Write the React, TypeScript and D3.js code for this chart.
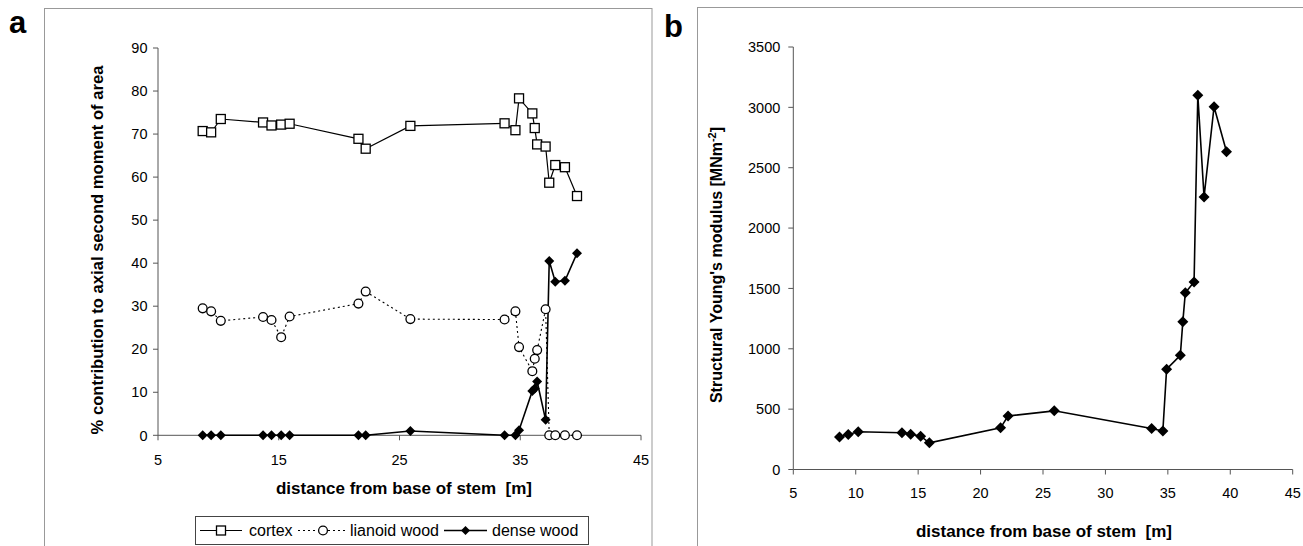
import React from 'react';
import * as d3 from 'd3';

// distance from base of stem [m], shared by both panels
const distance = [8.7, 9.4, 10.2, 13.7, 14.4, 15.2, 15.9, 21.6, 22.2, 25.9, 33.7, 34.6, 34.9, 36.0, 36.2, 36.4, 37.1, 37.4, 37.9, 38.7, 39.7];

// panel a: % contribution to axial second moment of area
const cortex = [70.7, 70.4, 73.5, 72.7, 72.0, 72.2, 72.4, 68.9, 66.6, 71.9, 72.5, 70.9, 78.3, 74.8, 71.4, 67.6, 67.1, 58.7, 62.8, 62.3, 55.6];
const lianoid = [29.5, 28.8, 26.6, 27.5, 26.8, 22.8, 27.6, 30.6, 33.4, 27.0, 26.9, 28.8, 20.5, 14.9, 17.8, 19.8, 29.3, 0, 0, 0, 0];
const dense = [0, 0, 0, 0, 0, 0, 0, 0, 0, 1.0, 0, 0, 1.2, 10.3, 10.9, 12.5, 3.6, 40.5, 35.7, 35.9, 42.3];

// panel b: structural Young's modulus [MN m^-2]
const modulus = [270, 290, 313, 305, 293, 276, 221, 345, 443, 486, 339, 319, 831, 946, 1225, 1464, 1553, 3100, 2258, 3005, 2632];

const ticksA_x = [5, 15, 25, 35, 45];
const ticksA_y = [0, 10, 20, 30, 40, 50, 60, 70, 80, 90];
const ticksB_x = [5, 10, 15, 20, 25, 30, 35, 40, 45];
const ticksB_y = [0, 500, 1000, 1500, 2000, 2500, 3000, 3500];

const FONT = '"Liberation Sans", Arial, sans-serif';
const AXIS = '#555';
const X_TITLE = 'distance from base of stem\u00a0 [m]';

const xA = d3.scaleLinear().domain([5, 45]).range([158, 641]);
const yA = d3.scaleLinear().domain([0, 90]).range([435.3, 48]);
const xB = d3.scaleLinear().domain([5, 45]).range([793.3, 1292.7]);
const yB = d3.scaleLinear().domain([0, 3500]).range([469.5, 47]);

const diamond = (cx: number, cy: number, r: number) =>
  `M${cx},${cy - r}L${cx + r},${cy}L${cx},${cy + r}L${cx - r},${cy}Z`;

function series(ys: number[], x: d3.ScaleLinear<number, number>, y: d3.ScaleLinear<number, number>) {
  const pts = distance.map((d, i) => [x(d), y(ys[i])] as [number, number]);
  return { pts, d: d3.line()(pts) || '' };
}

function Axes({ x, y, xt, yt, yLabelGap, xLabelY }: any) {
  const [x0, x1] = x.range();
  const [y0, y1] = y.range();
  return (
    <g fontFamily={FONT} fontSize={14.5} fill="#000">
      <line x1={x0} x2={x0} y1={y0} y2={y1} stroke={AXIS} />
      <line x1={x0} x2={x1} y1={y0} y2={y0} stroke={AXIS} />
      {yt.map((t: number) => (
        <g key={'y' + t}>
          <line x1={x0 - 5} x2={x0} y1={y(t)} y2={y(t)} stroke={AXIS} />
          <text x={x0 - yLabelGap} y={y(t)} dy="0.36em" textAnchor="end">{t}</text>
        </g>
      ))}
      {xt.map((t: number) => (
        <g key={'x' + t}>
          <line x1={x(t)} x2={x(t)} y1={y0} y2={y0 + 5} stroke={AXIS} />
          <text x={x(t)} y={xLabelY} dy="0.36em" textAnchor="middle">{t}</text>
        </g>
      ))}
    </g>
  );
}

export default function App() {
  const sCortex = series(cortex, xA, yA);
  const sLianoid = series(lianoid, xA, yA);
  const sDense = series(dense, xA, yA);
  const sMod = series(modulus, xB, yB);

  return (
    <svg width={1303} height={546} style={{ position: 'absolute', left: 0, top: 0, background: '#fff' }}>
      <rect x={0} y={0} width={1303} height={546} fill="#fff" />

      {/* panel frames */}
      <rect x={44.5} y={8.5} width={607.5} height={600} fill="none" stroke="#999" />
      <rect x={697.5} y={7.5} width={700} height={600} fill="none" stroke="#999" />

      <text x={9} y={33} fontFamily={FONT} fontSize={31} fontWeight="bold">a</text>
      <text x={664} y={37} fontFamily={FONT} fontSize={31} fontWeight="bold">b</text>

      {/* ---- panel a ---- */}
      <Axes x={xA} y={yA} xt={ticksA_x} yt={ticksA_y} yLabelGap={10.5} xLabelY={460} />

      <path d={sLianoid.d} fill="none" stroke="#000" strokeWidth={1.1} strokeDasharray="2,3" />
      <path d={sCortex.d} fill="none" stroke="#000" strokeWidth={1.2} />
      <path d={sDense.d} fill="none" stroke="#000" strokeWidth={1.6} />

      {sLianoid.pts.map(([cx, cy], i) => (
        <circle key={'l' + i} cx={cx} cy={cy} r={4.4} fill="#fff" stroke="#000" strokeWidth={1.3} />
      ))}
      {sCortex.pts.map(([cx, cy], i) => (
        <rect key={'c' + i} x={cx - 4.5} y={cy - 4.5} width={9} height={9} fill="#fff" stroke="#000" strokeWidth={1.3} />
      ))}
      {sDense.pts.map(([cx, cy], i) => (
        <path key={'d' + i} d={diamond(cx, cy, 5)} fill="#000" />
      ))}

      <text transform="translate(103,250) rotate(-90)" textAnchor="middle" fontFamily={FONT} fontSize={16.6} fontWeight="bold">
        % contribution to axial second moment of area
      </text>
      <text x={404} y={488} dy="0.36em" textAnchor="middle" fontFamily={FONT} fontSize={17} fontWeight="bold">
        {X_TITLE}
      </text>

      {/* legend */}
      <g fontFamily={FONT} fontSize={16}>
        <rect x={195.5} y={516.5} width={393} height={28} fill="#fff" stroke="#444" />
        <line x1={200} x2={242} y1={530.5} y2={530.5} stroke="#000" strokeWidth={1.2} />
        <rect x={216.5} y={526} width={9} height={9} fill="#fff" stroke="#000" strokeWidth={1.3} />
        <text x={249} y={530.5} dy="0.36em">cortex</text>
        <line x1={298} x2={348} y1={530.5} y2={530.5} stroke="#000" strokeWidth={1.1} strokeDasharray="2,3" />
        <circle cx={323} cy={530.5} r={4.4} fill="#fff" stroke="#000" strokeWidth={1.3} />
        <text x={350} y={530.5} dy="0.36em">lianoid wood</text>
        <line x1={444} x2={487} y1={530.5} y2={530.5} stroke="#000" strokeWidth={1.6} />
        <path d={diamond(465.5, 530.5, 4.5)} fill="#000" />
        <text x={492} y={530.5} dy="0.36em">dense wood</text>
      </g>

      {/* ---- panel b ---- */}
      <Axes x={xB} y={yB} xt={ticksB_x} yt={ticksB_y} yLabelGap={13} xLabelY={493} />

      <path d={sMod.d} fill="none" stroke="#000" strokeWidth={1.6} />
      {sMod.pts.map(([cx, cy], i) => (
        <path key={'m' + i} d={diamond(cx, cy, 5.5)} fill="#000" />
      ))}

      <text transform="translate(722,265) rotate(-90)" textAnchor="middle" fontFamily={FONT} fontSize={16} fontWeight="bold">
        Structural Young's modulus [MNm<tspan dy={-6} fontSize={11}>-2</tspan><tspan dy={6}>]</tspan>
      </text>
      <text x={1044} y={531} dy="0.36em" textAnchor="middle" fontFamily={FONT} fontSize={17} fontWeight="bold">
        {X_TITLE}
      </text>
    </svg>
  );
}
